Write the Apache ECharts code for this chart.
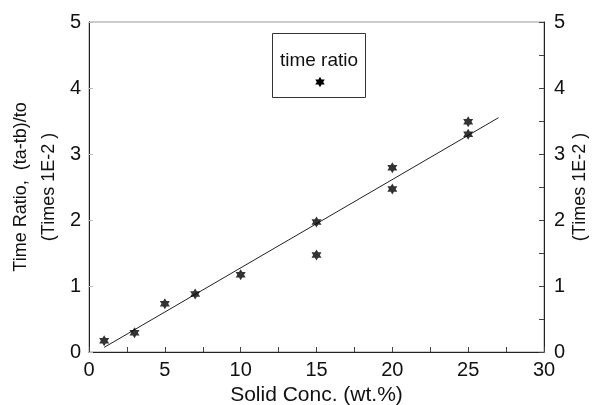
<!DOCTYPE html>
<html><head><meta charset="utf-8">
<script src="https://cdn.jsdelivr.net/npm/echarts@6/dist/echarts.min.js"></script>
<style>html,body{margin:0;padding:0;background:#fff}#c{width:592px;height:405px}</style>
</head><body><div id="c"></div>
<script>
const solidConc = [1, 3, 5, 7, 10, 15, 15, 20, 20, 25, 25];
const timeRatio = [0.17, 0.29, 0.73, 0.88, 1.17, 1.97, 1.47, 2.79, 2.47, 3.49, 3.30];
const fitX = [1, 27];
const fitY = [0.07, 3.55];
const xTicks = [0, 5, 10, 15, 20, 25, 30];
const yTicks = [0, 1, 2, 3, 4, 5];

const FONT = 'Liberation Sans, Arial, sans-serif';
const starPts = [[0,-10],[2.887,-5],[8.66,-5],[5.774,0],[8.66,5],[2.887,5],[0,10],[-2.887,5],[-8.66,5],[-5.774,0],[-8.66,-5],[-2.887,-5]];
const star = 'path://M' + starPts.map(p => p.join(',')).join(' L') + ' Z';

const chart = echarts.init(document.getElementById('c'), null, {renderer: 'canvas'});
const pts = solidConc.map((x, i) => [x, timeRatio[i]]);
const fit = fitX.map((x, i) => [x, fitY[i]]);
const legendStar = starPts.map(p => [47.5 + p[0] * 0.55, 48.5 + p[1] * 0.52]);
chart.setOption({
  animation: false,
  backgroundColor: '#fff',
  grid: {left: 89, right: 48, top: 22, bottom: 53, containLabel: false, outerBoundsMode: 'none',
    show: true, borderColor: '#999', borderWidth: 1},
  xAxis: {
    type: 'value', min: 0, max: 30, interval: 5,
    name: 'Solid Conc. (wt.%)', nameLocation: 'middle', nameGap: 27,
    nameTextStyle: {fontFamily: FONT, fontSize: 21, color: '#111'},
    axisLine: {lineStyle: {color: '#222', width: 1}},
    axisTick: {inside: true, length: 5, lineStyle: {color: '#444'}},
    minorTick: {show: true, splitNumber: 2, length: 5, lineStyle: {color: '#444'}},
    axisLabel: {fontFamily: FONT, fontSize: 20, color: '#111', margin: 8,
      formatter: v => xTicks.includes(v) ? String(v) : ''},
    splitLine: {show: false}
  },
  yAxis: [{
    type: 'value', min: 0, max: 5, interval: 1, position: 'left',
    name: 'Time Ratio,  (ta-tb)/to\n(Times 1E-2 )', nameLocation: 'middle', nameGap: 26, nameRotate: 90,
    nameMoveOverlap: false,
    nameTextStyle: {fontFamily: FONT, fontSize: 18, color: '#111', lineHeight: 28, align: 'center'},
    axisLine: {show: true, lineStyle: {color: '#222'}},
    axisTick: {inside: true, length: 4, lineStyle: {color: '#bbb'}},
    axisLabel: {fontFamily: FONT, fontSize: 20, color: '#111', margin: 8,
      formatter: v => yTicks.includes(v) ? String(v) : ''},
    splitLine: {show: false}
  }, {
    type: 'value', min: 0, max: 5, interval: 1, position: 'right',
    name: '(Times 1E-2 )', nameLocation: 'middle', nameGap: 27, nameRotate: 90,
    nameMoveOverlap: false,
    nameTextStyle: {fontFamily: FONT, fontSize: 18, color: '#111'},
    axisLine: {show: true, lineStyle: {color: '#222'}},
    axisTick: {inside: true, length: 5, lineStyle: {color: '#444'}},
    minorTick: {show: true, splitNumber: 2, length: 5, lineStyle: {color: '#444'}},
    axisLabel: {fontFamily: FONT, fontSize: 20, color: '#111', margin: 10,
      formatter: v => yTicks.includes(v) ? String(v) : ''},
    splitLine: {show: false}
  }],
  series: [{
    name: 'fit', type: 'line', data: fit, showSymbol: false, symbol: 'none',
    lineStyle: {color: '#222', width: 1}, z: 2
  }, {
    name: 'time ratio', type: 'scatter', data: pts, symbol: star, symbolSize: [10, 11],
    itemStyle: {color: '#000'}, z: 3
  }],
  graphic: [{
    type: 'group', left: 272, top: 33, children: [
      {type: 'rect', shape: {x: 0, y: 0, width: 93, height: 64}, style: {fill: '#fff', stroke: '#333', lineWidth: 1}},
      {type: 'text', style: {x: 46.5, y: 27, text: 'time ratio', font: '19px ' + FONT, fill: '#111', textAlign: 'center', textVerticalAlign: 'middle'}},
      {type: 'polygon', shape: {points: legendStar}, style: {fill: '#000'}}
    ]
  }]
});
</script></body></html>
